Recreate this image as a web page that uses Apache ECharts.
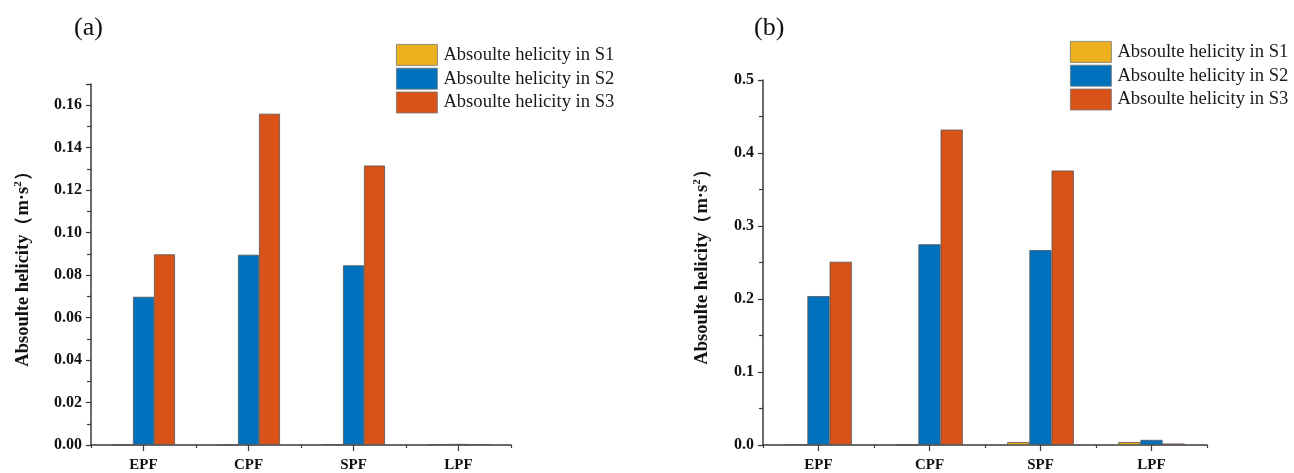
<!DOCTYPE html>
<html>
<head>
<meta charset="utf-8">
<script src="https://cdn.jsdelivr.net/npm/echarts@6/dist/echarts.min.js"></script>
<style>
  html, body { margin: 0; padding: 0; background: #ffffff; }
  #chart { width: 1294px; height: 473px; }
</style>
</head>
<body>
<div id="chart"></div>
<script>
// Flow-pattern categories shared by both panels
const categories = ['EPF', 'CPF', 'SPF', 'LPF'];
const seriesNames = ['Absoulte helicity in S1', 'Absoulte helicity in S2', 'Absoulte helicity in S3'];

// Panel (a): absolute helicity per scheme
const helicityA_S1 = [0.0000, 0.0000, 0.0004, 0.0003];
const helicityA_S2 = [0.0698, 0.0896, 0.0846, 0.0005];
const helicityA_S3 = [0.0898, 0.1560, 0.1316, 0.0004];

// Panel (b): absolute helicity per scheme
const helicityB_S1 = [0.001, 0.000, 0.004, 0.004];
const helicityB_S2 = [0.204, 0.275, 0.267, 0.007];
const helicityB_S3 = [0.251, 0.432, 0.376, 0.002];

// Y-axis ranges and tick spacing
const yRangeA = { min: 0, max: 0.17, interval: 0.02 };
const yRangeB = { min: 0, max: 0.5, interval: 0.1 };

const colors = ['#EDB120', '#0072BD', '#D95319'];
const serif = '"Liberation Serif", "Times New Roman", serif';
const axisColor = '#3a3a3a';
const yName = '{t|Absoulte helicity（m·s}{s|2}{t|）}';

function isMultiple(v, step) {
  return Math.abs(v / step - Math.round(v / step)) < 1e-9;
}

function valueAxis(idx, range, decimals, gap) {
  return {
    type: 'value',
    gridIndex: idx,
    min: range.min,
    max: range.max,
    interval: range.interval,
    name: yName,
    nameLocation: 'middle',
    nameRotate: 90,
    nameGap: gap,
    nameTextStyle: {
      rich: {
        t: { fontFamily: serif, fontWeight: 'bold', fontSize: 18.5, color: '#111' },
        s: { fontFamily: serif, fontWeight: 'bold', fontSize: 11, color: '#111', verticalAlign: 'top', padding: [0, 0, 9, 0] }
      }
    },
    axisLine: { show: true, lineStyle: { color: axisColor, width: 1.5 } },
    axisTick: { show: true, inside: false, length: 5, lineStyle: { color: axisColor, width: 1.2 } },
    minorTick: { show: true, splitNumber: 2, length: 4, lineStyle: { color: axisColor, width: 1.2 } },
    splitLine: { show: false },
    axisLabel: {
      showMaxLabel: isMultiple(range.max, range.interval),
      margin: 9,
      fontFamily: serif,
      fontWeight: 'bold',
      fontSize: 16,
      color: '#111',
      formatter: v => v.toFixed(decimals)
    }
  };
}

function categoryAxes(idx) {
  return [
    {
      type: 'category',
      gridIndex: idx,
      data: categories,
      boundaryGap: true,
      axisLine: { show: true, lineStyle: { color: axisColor, width: 1.5 } },
      axisTick: { show: true, alignWithLabel: true, length: 6, lineStyle: { color: axisColor, width: 1.2 } },
      axisLabel: { margin: 13, fontFamily: serif, fontWeight: 'bold', fontSize: 15, color: '#111' },
      splitLine: { show: false }
    },
    {
      // boundary ticks between categories
      type: 'category',
      gridIndex: idx,
      data: categories,
      position: 'bottom',
      offset: 0,
      boundaryGap: true,
      axisLine: { show: false },
      axisTick: { show: true, alignWithLabel: false, length: 3, lineStyle: { color: axisColor, width: 1.2 } },
      axisLabel: { show: false },
      splitLine: { show: false }
    }
  ];
}

function bars(name, data, color, axisIdx) {
  return {
    name: name,
    type: 'bar',
    xAxisIndex: axisIdx,
    yAxisIndex: axisIdx === 0 ? 0 : 1,
    data: data,
    barGap: '0%',
    barCategoryGap: '40%',
    itemStyle: { color: color, borderColor: '#555', borderWidth: 0.8 },
    emphasis: { disabled: true }
  };
}

function legendAt(left, top) {
  return {
    orient: 'vertical',
    left: left,
    top: top,
    padding: 0,
    itemWidth: 41,
    itemHeight: 21,
    itemGap: 2,
    icon: 'rect',
    itemStyle: { borderColor: '#777', borderWidth: 0.8 },
    data: seriesNames,
    textStyle: { fontFamily: serif, fontSize: 18.6, color: '#1a1a1a', padding: [0, 0, 0, 1] }
  };
}

const chart = echarts.init(document.getElementById('chart'), null, { renderer: 'canvas' });

chart.setOption({
  backgroundColor: '#ffffff',
  animation: false,
  title: [
    { text: '(a)', left: 69, top: 10, textStyle: { fontFamily: serif, fontWeight: 'normal', fontSize: 26, color: '#111' } },
    { text: '(b)', left: 749, top: 10, textStyle: { fontFamily: serif, fontWeight: 'normal', fontSize: 26, color: '#111' } }
  ],
  legend: [legendAt(396, 44), legendAt(1070, 41)],
  grid: [
    { left: 91, top: 84, width: 420, height: 363 },
    { left: 763, top: 80, width: 444, height: 366 }
  ],
  xAxis: [].concat(categoryAxes(0), categoryAxes(1)),
  yAxis: [valueAxis(0, yRangeA, 2, 58), valueAxis(1, yRangeB, 1, 51)],
  series: [
    bars(seriesNames[0], helicityA_S1, colors[0], 0),
    bars(seriesNames[1], helicityA_S2, colors[1], 0),
    bars(seriesNames[2], helicityA_S3, colors[2], 0),
    bars(seriesNames[0], helicityB_S1, colors[0], 2),
    bars(seriesNames[1], helicityB_S2, colors[1], 2),
    bars(seriesNames[2], helicityB_S3, colors[2], 2)
  ]
});
</script>
</body>
</html>
